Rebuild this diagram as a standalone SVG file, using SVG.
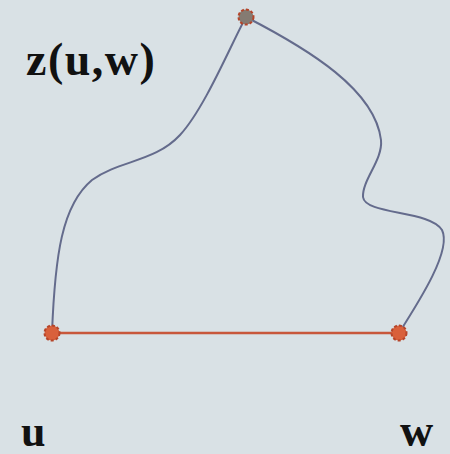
<svg xmlns="http://www.w3.org/2000/svg" width="450" height="454" viewBox="0 0 450 454">
<style>
.lbl{font-family:"Liberation Serif","DejaVu Serif",serif;font-weight:bold;fill:#111;}
.curve{fill:none;stroke:#646b8c;stroke-width:2;}
.edge{fill:none;stroke:#c8573b;stroke-width:2.5;}
.node{stroke:#b5452a;stroke-width:2;stroke-dasharray:3 2;}
</style>
<rect width="450" height="454" fill="#d9e1e5"/>
<g id="connectors">
<path class="curve" d="M52,333 C55,255 62,205 92,180 C120,160 155,162 180,135 C205,108 232,42 246,17"/>
<path class="curve" d="M246,17 C310,50 375,90 381,140 C383,160 362,180 363,197 C365,215 430,210 442,230 C452,250 420,300 399,333"/>
<path class="edge" d="M52,333 L399,333"/>
</g>
<g id="node-z"><circle class="node" cx="246" cy="17" r="7.5" fill="#857b72"/></g>
<g id="node-u"><circle class="node" cx="52" cy="333" r="7.5" fill="#d9603b"/></g>
<g id="node-w"><circle class="node" cx="399" cy="333" r="7.5" fill="#d9603b"/></g>
<text class="lbl" x="26" y="75" font-size="46" letter-spacing="1.5">z(u,w)</text>
<text class="lbl" x="21" y="446" font-size="44">u</text>
<text class="lbl" x="400" y="446" font-size="46">w</text>
</svg>
